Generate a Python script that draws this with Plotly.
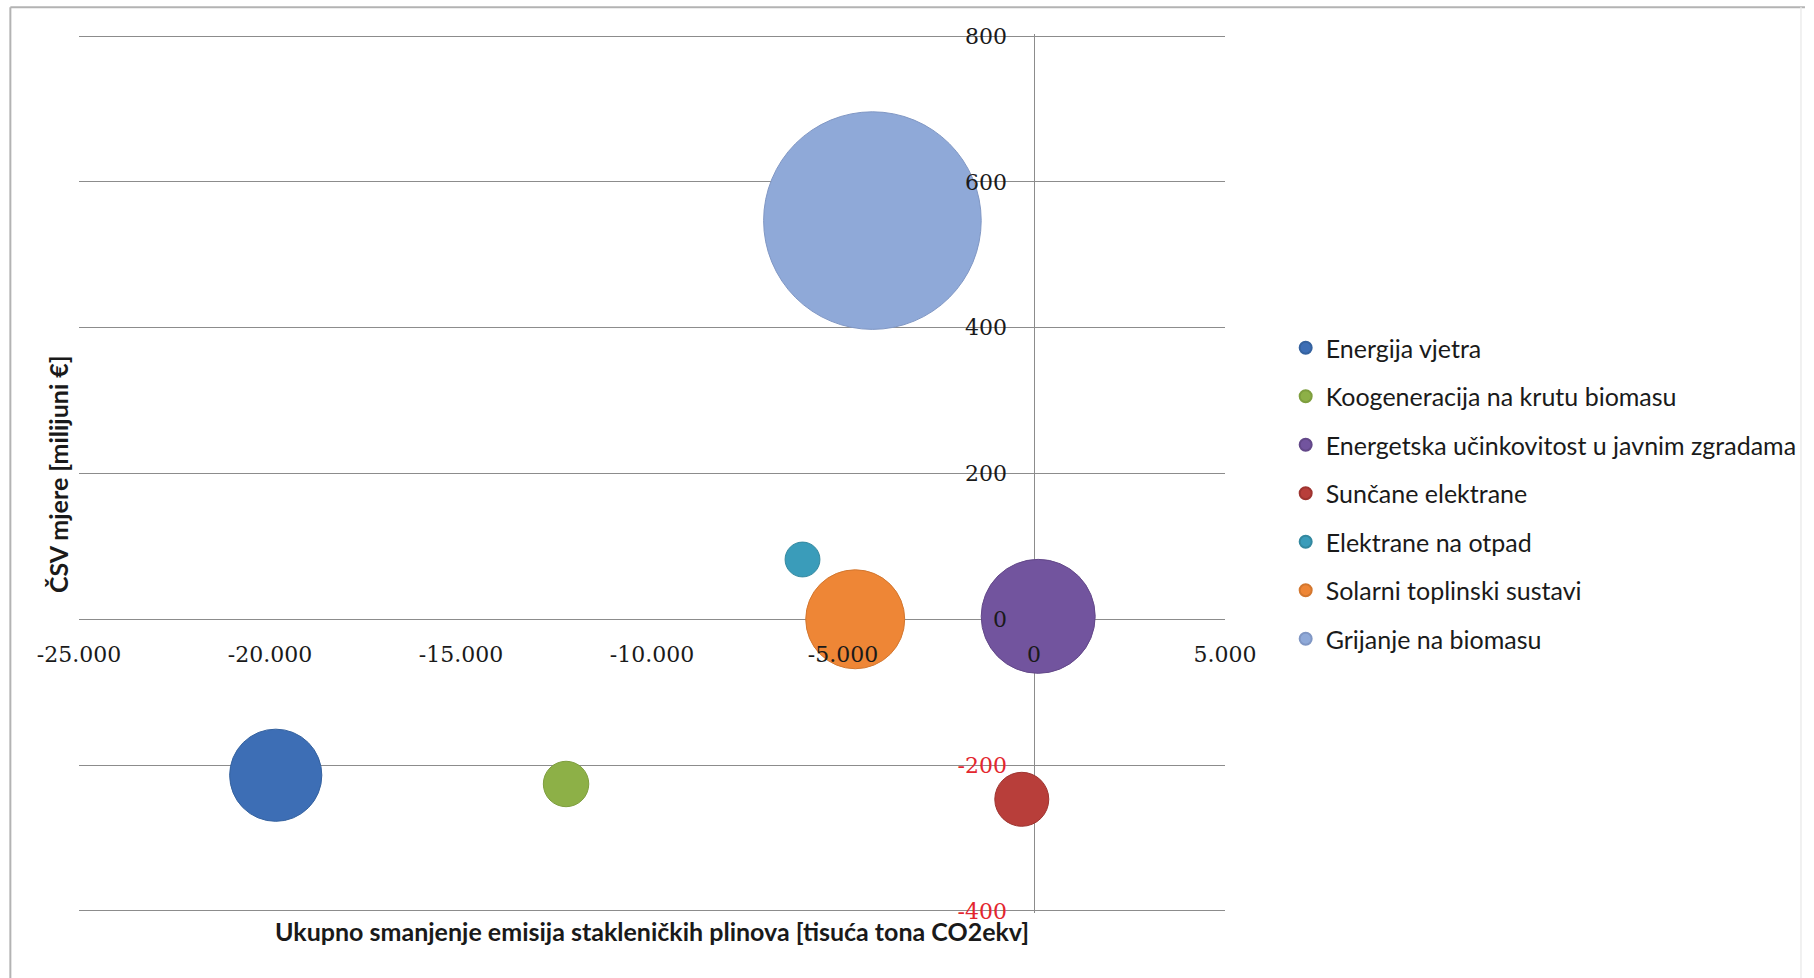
import plotly.graph_objects as go

# ---- data ----
categories = [
    "Energija vjetra",
    "Koogeneracija na krutu biomasu",
    "Energetska učinkovitost u javnim zgradama",
    "Sunčane elektrane",
    "Elektrane na otpad",
    "Solarni toplinski sustavi",
    "Grijanje na biomasu",
]
ghg_reduction = [-19850, -12250, 110, -320, -6060, -4680, -4230]   # tisuća tona CO2ekv
npv = [-214, -226, 4, -247, 82, 0, 547]                            # milijuni €
bubble_size = [210, 51, 321, 72, 30, 242, 1170]
colors = ["#3D6EB5", "#8DB047", "#72549E", "#B83E3A", "#3A9CBA", "#EE8636", "#8FA9D8"]
edge_colors = ["#35629F", "#7E9E3E", "#634889", "#9E3430", "#33889F", "#D3772F", "#8097C4"]

x_tickvals = [-25000, -20000, -15000, -10000, -5000, 0, 5000]
x_ticktext = ["-25.000", "-20.000", "-15.000", "-10.000", "-5.000", "0", "5.000"]
y_tickvals = [-400, -200, 0, 200, 400, 600, 800]
y_ticktext = ["-400", "-200", "0", "200", "400", "600", "800"]

x_title = "Ukupno smanjenje emisija stakleničkih plinova [tisuća tona CO2ekv]"
y_title = "ČSV mjere [milijuni €]"

# ---- layout geometry (pixels) ----
W, H = 1814, 978
L, R = 79, 1231
Y_TOP_PX, Y_BOT_PX = 36, 911          # pixel rows of 800 and -400
pad_y = 3.0                           # small pad so edge gridlines (800 / -400) are drawn
k = (Y_BOT_PX - Y_TOP_PX) / (y_tickvals[-1] - y_tickvals[0])
T = Y_TOP_PX - pad_y * k
B = Y_BOT_PX + pad_y * k
PW, PH = R - L, B - T
max_diam = 217.6
sizeref = 2.0 * max(bubble_size) / max_diam ** 2

xr = [x_tickvals[0], x_tickvals[-1]]
yr = [y_tickvals[0] - pad_y, y_tickvals[-1] + pad_y]

def px_x(p):
    return (p - L) / PW

def px_y(p):
    return (B - p) / PH

fig = go.Figure()
for name, xv, yv, s, c, ec in zip(categories, ghg_reduction, npv, bubble_size, colors, edge_colors):
    fig.add_trace(go.Scatter(
        x=[xv], y=[yv], mode="markers", name=name, legendgroup=name,
        marker=dict(size=[s], sizemode="area", sizeref=sizeref, color=c,
                    opacity=1, line=dict(color=ec, width=1)),
        hoverinfo="name+x+y",
    ))

neg_col = "#E3262E"
y_ticktext_fmt = [f'<span style="color:{neg_col}">{t}</span>' if v < 0 else t
                  for v, t in zip(y_tickvals, y_ticktext)]

tick_font = dict(family="DejaVu Serif", size=22, color="#1a1a1a")
grid_col = "#8c8c8c"
title_font = dict(family="Lato", size=25, color="#1a1a1a")
border_col = "#b3b3b3"

fig.update_layout(
    width=W, height=H,
    margin=dict(l=L, r=W - R, t=T, b=H - B),
    paper_bgcolor="white", plot_bgcolor="white",
    showlegend=True,
    legend=dict(
        x=px_x(1292), xanchor="left", y=px_y(325), yanchor="top",
        font=dict(family="Lato", size=25, color="#1a1a1a"),
        itemsizing="constant", tracegroupgap=13,
        bgcolor="rgba(0,0,0,0)",
    ),
    xaxis=dict(
        range=xr, tickvals=x_tickvals, ticktext=x_ticktext,
        showgrid=False, zeroline=True, zerolinecolor=grid_col, zerolinewidth=1.3,
        showline=False, ticks="", tickfont=tick_font,
        anchor="free", position=(0 - yr[0]) / (yr[1] - yr[0]),
        ticklabelstandoff=20, fixedrange=True,
    ),
    yaxis=dict(
        range=yr, tickvals=y_tickvals, ticktext=y_ticktext_fmt,
        showgrid=True, gridcolor=grid_col, gridwidth=1.3,
        zeroline=True, zerolinecolor=grid_col, zerolinewidth=1.3,
        showline=False, ticks="", tickfont=tick_font,
        anchor="free", position=(0 - xr[0]) / (xr[1] - xr[0]),
        ticklabelstandoff=27, fixedrange=True,
    ),
    annotations=[
        dict(text=f"<b>{x_title}</b>", xref="paper", yref="paper",
             x=px_x(655), y=px_y(931), xanchor="center", yanchor="middle",
             showarrow=False, font=title_font),
        dict(text=f"<b>{y_title}</b>", xref="paper", yref="paper",
             x=px_x(58), y=px_y(474), xanchor="center", yanchor="middle",
             textangle=-90, showarrow=False, font=title_font),
    ],
    shapes=[
        # outer chart-area frame: top and left clear, right very faint
        dict(type="line", xref="paper", yref="paper",
             x0=px_x(10), x1=px_x(1814), y0=px_y(7), y1=px_y(7),
             line=dict(color=border_col, width=2), layer="below"),
        dict(type="line", xref="paper", yref="paper",
             x0=px_x(10), x1=px_x(10), y0=px_y(7), y1=px_y(1000),
             line=dict(color=border_col, width=2), layer="below"),
        dict(type="line", xref="paper", yref="paper",
             x0=px_x(1810), x1=px_x(1810), y0=px_y(7), y1=px_y(1000),
             line=dict(color="#ececec", width=1.5), layer="below"),
    ],
)

fig.write_html("out.html")
